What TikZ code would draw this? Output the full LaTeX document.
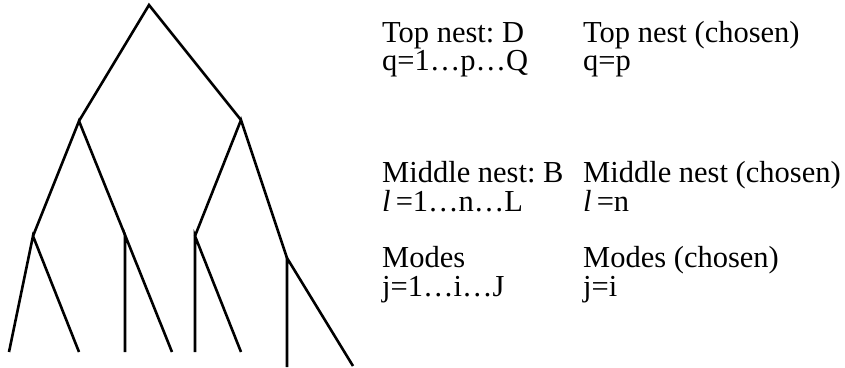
\documentclass[tikz,border=0pt]{standalone}
\usepackage{fontspec}
\setmainfont{Liberation Serif}
\frenchspacing
\begin{document}
\begin{tikzpicture}[
  x=1pt, y=-1pt,
  branch/.style={line width=2.6pt, line join=miter},
  lbl/.style={anchor=base west, inner sep=0pt, font=\fontsize{30.5}{34}\selectfont},
]
\useasboundingbox (0,0) rectangle (845,367);
% --- tree ---
\coordinate (root) at (149,5);
\coordinate (top1) at (79,121);
\coordinate (top2) at (241,120);
\coordinate (mid1) at (33,236);
\coordinate (mid2) at (125,235);
\coordinate (mid3) at (195,236);
\coordinate (mid4) at (287,258);
\coordinate (leaf1) at (9,352);
\coordinate (leaf2) at (79,352);
\coordinate (leaf3) at (125,352);
\coordinate (leaf4) at (172,352);
\coordinate (leaf5) at (195,352);
\coordinate (leaf6) at (241,352);
\coordinate (leaf7) at (287,367);
\coordinate (leaf8) at (353,366);

\draw[branch] (top1) -- (root) -- (top2);
\draw[branch] (mid1) -- (top1) -- (mid2);
\draw[branch] (mid3) -- (top2) -- (mid4);
\draw[branch] (leaf1) -- (mid1) -- (leaf2);
\draw[branch] (leaf3) -- (mid2) -- (leaf4);
\draw[branch] (leaf5) -- (mid3) -- (leaf6);
\draw[branch] (leaf7) -- (mid4) -- (leaf8);

% --- labels ---
\node[lbl] (topall) at (382,42) {Top nest: D};
\node[lbl] (topq) at (382,70) {q=1…p…Q};
\node[lbl] (midall) at (382,182) {Middle nest: B};
\node[lbl] (midl) at (382,211) {\textit{l}\,=1…n…L};
\node[lbl] (modesall) at (382,267) {Modes};
\node[lbl] (modesj) at (382,296) {j=1…i…J};

\node[lbl] (topchosen) at (583,42) {Top nest (chosen)};
\node[lbl] (topp) at (583,70) {q=p};
\node[lbl] (midchosen) at (583,182) {Middle nest (chosen)};
\node[lbl] (midn) at (583,211) {\textit{l}\,=n};
\node[lbl] (modeschosen) at (583,267) {Modes (chosen)};
\node[lbl] (modesi) at (583,296) {j=i};
\end{tikzpicture}
\end{document}
